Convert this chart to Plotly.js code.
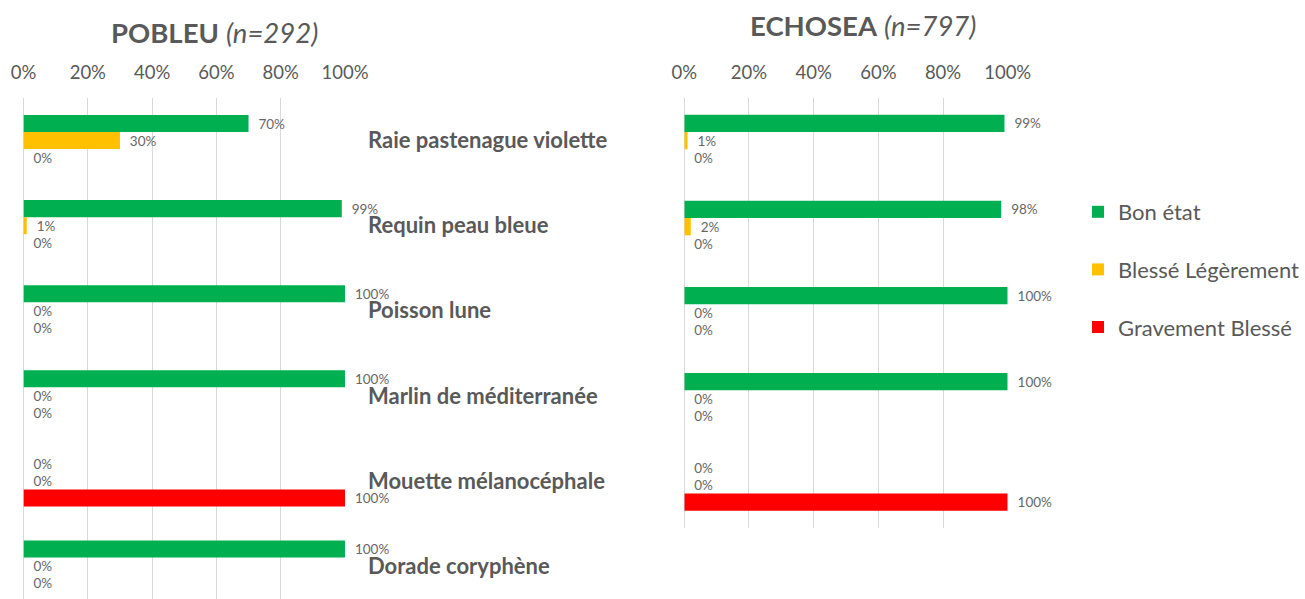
<!DOCTYPE html>
<html>
<head>
<meta charset="utf-8">
<script src="https://cdn.plot.ly/plotly-3.0.1.min.js"></script>
<style>html,body{margin:0;padding:0;background:#fff;}#chart{width:1305px;height:599px;}</style>
</head>
<body>
<div id="chart"></div>
<script>
// ---- data ----
var categoriesPobleu = ['Raie pastenague violette', 'Requin peau bleue', 'Poisson lune', 'Marlin de méditerranée', 'Mouette mélanocéphale', 'Dorade coryphène'];
var pobleuBonEtat = [70, 99, 100, 100, 0, 100];
var pobleuLeger = [30, 1, 0, 0, 0, 0];
var pobleuGrave = [0, 0, 0, 0, 100, 0];

var categoriesEchosea = ['Raie pastenague violette', 'Requin peau bleue', 'Poisson lune', 'Marlin de méditerranée', 'Mouette mélanocéphale'];
var echoseaBonEtat = [99, 98, 100, 100, 0];
var echoseaLeger = [1, 2, 0, 0, 0];
var echoseaGrave = [0, 0, 0, 0, 100];

var seriesNames = ['Bon état', 'Blessé Légèrement', 'Gravement Blessé'];
var xTickVals = [0, 20, 40, 60, 80, 100];
var xTickText = ['0%', '20%', '40%', '60%', '80%', '100%'];
var panelTitles = ['<b>POBLEU</b> <i>(n=292)</i>', '<b>ECHOSEA</b> <i>(n=797)</i>'];

// ---- styles ----
var colors = ['#00b050', '#ffc000', '#ff0000'];
var FONT = 'Lato, "Open Sans", sans-serif';
var GREY = '#595959';
var W = 1305, H = 599;

function barTrace(name, vals, cats, idx, xa, ya, showLegend) {
  return {
    type: 'bar', orientation: 'h', name: name,
    x: vals, y: cats, xaxis: xa, yaxis: ya,
    marker: {color: colors[idx], line: {width: 0}},
    texttemplate: '\u00a0\u00a0%{x:.0f}%', textposition: 'outside',
    outsidetextfont: {family: FONT, size: 13.5, color: '#666666'},
    constraintext: 'none', cliponaxis: false,
    legendgroup: 'g' + idx, showlegend: showLegend,
    hoverinfo: 'skip'
  };
}

var data = [
  barTrace(seriesNames[0], pobleuBonEtat, categoriesPobleu, 0, 'x', 'y', true),
  barTrace(seriesNames[1], pobleuLeger, categoriesPobleu, 1, 'x', 'y', true),
  barTrace(seriesNames[2], pobleuGrave, categoriesPobleu, 2, 'x', 'y', true),
  barTrace(seriesNames[0], echoseaBonEtat, categoriesEchosea, 0, 'x2', 'y2', false),
  barTrace(seriesNames[1], echoseaLeger, categoriesEchosea, 1, 'x2', 'y2', false),
  barTrace(seriesNames[2], echoseaGrave, categoriesEchosea, 2, 'x2', 'y2', false)
];

function xAxis(d0, d1, anchor) {
  return {
    domain: [d0 / W, d1 / W], anchor: anchor, side: 'top', range: [0, 100],
    tickvals: xTickVals, ticktext: xTickText, ticks: '', ticklabelstandoff: 14,
    tickfont: {family: FONT, size: 18.5, color: GREY},
    showgrid: true, gridcolor: '#d9d9d9', gridwidth: 1,
    zeroline: true, zerolinecolor: '#d9d9d9', zerolinewidth: 1,
    showline: false, fixedrange: true
  };
}

var leftBand = 85.1;
var leftTop = 98, leftBottom = 599;
var rightTop = 97.5, rightBottom = 528;

var layout = {
  width: W, height: H,
  margin: {l: 0, r: 0, t: 0, b: 0, pad: 0, autoexpand: false},
  paper_bgcolor: '#ffffff', plot_bgcolor: '#ffffff',
  barmode: 'group', bargap: 0.4, bargroupgap: 0,
  showlegend: true,
  font: {family: FONT, color: GREY},
  xaxis: xAxis(23.5, 345, 'y'),
  xaxis2: xAxis(684.3, 1007.7, 'y2'),
  yaxis: {
    domain: [1 - leftBottom / H, 1 - leftTop / H], anchor: 'x', side: 'right',
    type: 'category',
    range: [-0.5 + (leftBottom - leftTop) / leftBand, -0.5],
    ticks: '', ticklabelstandoff: 22,
    tickfont: {family: FONT, size: 22, color: GREY, weight: 'bold'},
    showgrid: false, zeroline: false, showline: false, fixedrange: true
  },
  yaxis2: {
    domain: [1 - rightBottom / H, 1 - rightTop / H], anchor: 'x2',
    type: 'category', range: [4.5, -0.5],
    showticklabels: false, ticks: '',
    showgrid: false, zeroline: false, showline: false, fixedrange: true
  },
  legend: {
    x: 1078 / W, xanchor: 'left', y: 1 - 191 / H, yanchor: 'top',
    orientation: 'v', traceorder: 'grouped', tracegroupgap: 26,
    font: {family: FONT, size: 22, color: GREY},
    bgcolor: 'rgba(0,0,0,0)', borderwidth: 0
  },
  annotations: [
    {text: panelTitles[0], xref: 'paper', yref: 'paper', x: 214 / W, y: 1 - 32 / H,
     xanchor: 'center', yanchor: 'middle', showarrow: false,
     font: {family: FONT, size: 27.5, color: GREY}},
    {text: panelTitles[1], xref: 'paper', yref: 'paper', x: 863 / W, y: 1 - 25 / H,
     xanchor: 'center', yanchor: 'middle', showarrow: false,
     font: {family: FONT, size: 27.5, color: GREY}}
  ]
};

Plotly.newPlot('chart', data, layout, {displayModeBar: false, staticPlot: true});
</script>
</body>
</html>
